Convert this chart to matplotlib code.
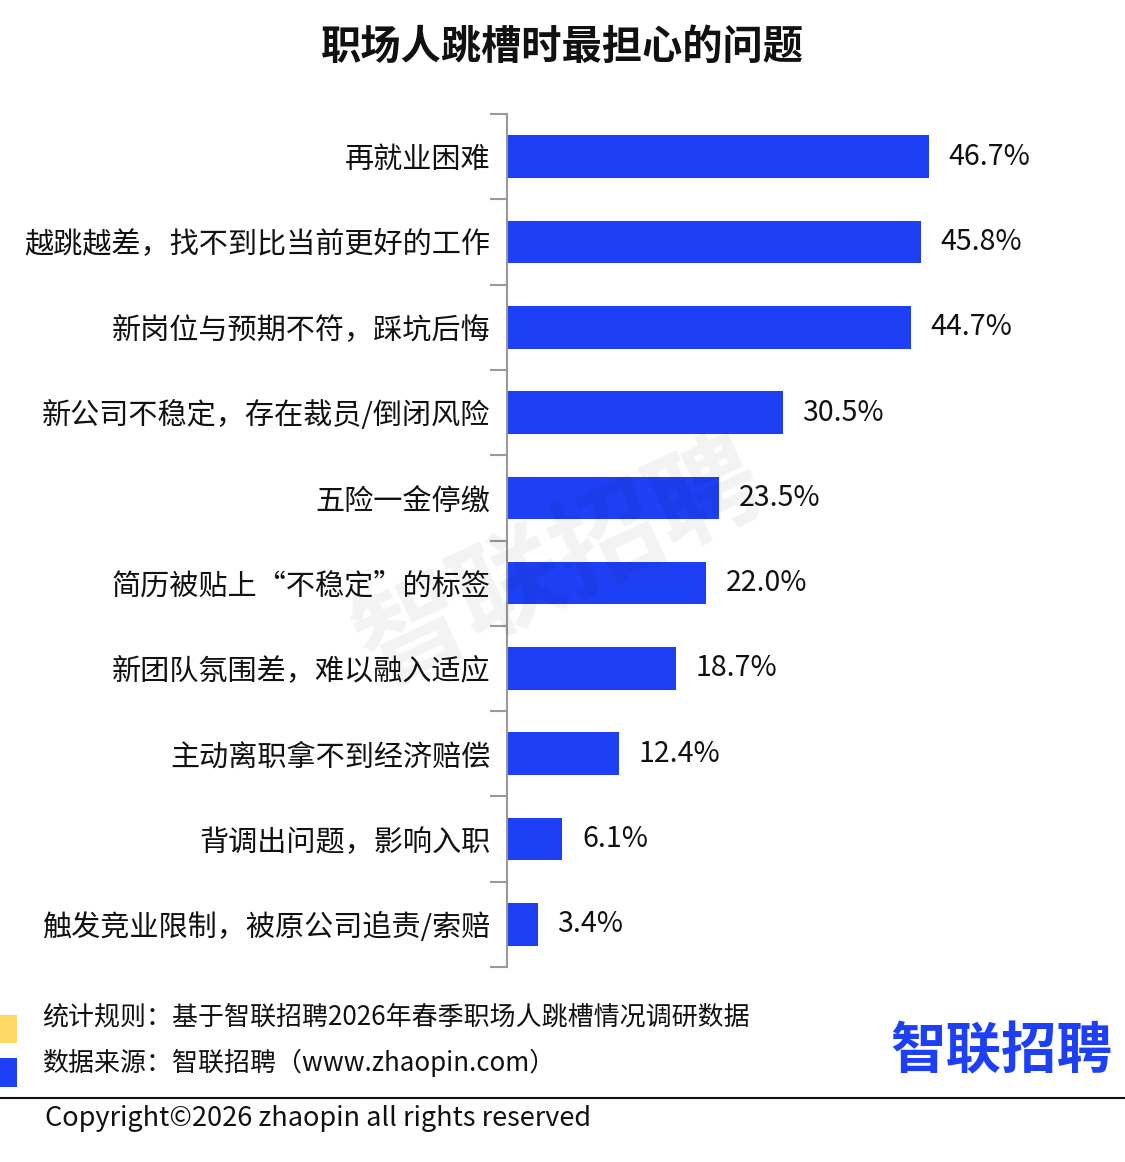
import matplotlib
matplotlib.use("Agg")
import matplotlib.pyplot as plt
from matplotlib.patches import Rectangle
import numpy as np

plt.rcParams['font.family'] = ['Noto Sans CJK SC', 'DejaVu Sans']

# --- data ---
categories = [
    '再就业困难',
    '越跳越差，找不到比当前更好的工作',
    '新岗位与预期不符，踩坑后悔',
    '新公司不稳定，存在裁员/倒闭风险',
    '五险一金停缴',
    '简历被贴上“不稳定”的标签',
    '新团队氛围差，难以融入适应',
    '主动离职拿不到经济赔偿',
    '背调出问题，影响入职',
    '触发竞业限制，被原公司追责/索赔',
]
values = [46.7, 45.8, 44.7, 30.5, 23.5, 22.0, 18.7, 12.4, 6.1, 3.4]

title = '职场人跳槽时最担心的问题'
note_rule = '统计规则：基于智联招聘2026年春季职场人跳槽情况调研数据'
note_source = '数据来源：智联招聘（www.zhaopin.com）'
copyright_text = 'Copyright©2026 zhaopin all rights reserved'

BLUE = '#1E40F5'
YELLOW = '#FFD966'

W, H = 1125, 1162
fig = plt.figure(figsize=(W / 100, H / 100), dpi=100)

# axes placed in pixel terms: spine at x=507, from y=114 to y=967
ax = fig.add_axes([507 / W, 1 - 967 / H, 590 / W, (967 - 114) / H])

y = np.arange(len(categories))
ax.barh(y, values, height=0.5, color=BLUE)
ax.set_ylim(len(categories) - 0.5, -0.5)
ax.set_xlim(0, 65.3)

for yi, v in zip(y, values):
    ax.text(v + 2.2, yi, f'{v:.1f}%', va='center', ha='left', fontsize=20.5, color='#111111')

ax.set_yticks(y)
ax.set_yticklabels(categories, fontsize=21, color='#111111')
ax.tick_params(axis='y', which='major', length=0, pad=12)
ax.set_yticks(np.arange(len(categories) + 1) - 0.5, minor=True)
ax.tick_params(axis='y', which='minor', length=12, width=1.5, color='#999999')
ax.set_xticks([])
for s in ['top', 'right', 'bottom']:
    ax.spines[s].set_visible(False)
ax.spines['left'].set_color('#999999')
ax.spines['left'].set_linewidth(1.5)

# watermark
fig.text(560 / W, 1 - 565 / H, '智联招聘', fontsize=78, fontweight='bold', color='#000000',
         alpha=0.05, rotation=25, ha='center', va='center')

# title
fig.text(562 / W, 1 - 47 / H, title, fontsize=29, fontweight='bold', ha='center', va='center', color='#111111')

# footer notes
fig.add_artist(Rectangle((0, 1 - 1043 / H), 17 / W, 28 / H, transform=fig.transFigure, color=YELLOW, lw=0))
fig.add_artist(Rectangle((0, 1 - 1087 / H), 17 / W, 29 / H, transform=fig.transFigure, color=BLUE, lw=0))
fig.text(42 / W, 1 - 1017 / H, note_rule, fontsize=18.7, va='center', ha='left', color='#111111')
fig.text(42 / W, 1 - 1063 / H, note_source, fontsize=18.7, va='center', ha='left', color='#111111')

# logo
fig.text(1112 / W, 1 - 1052 / H, '智联招聘', fontsize=40, fontweight='bold', color=BLUE,
         ha='right', va='center')

fig.add_artist(plt.Line2D([0, 1], [1 - 1098 / H, 1 - 1098 / H], transform=fig.transFigure,
                          color='#111111', lw=1.5))
fig.text(45 / W, 1 - 1118 / H, copyright_text, fontsize=19.5, va='center', ha='left', color='#111111')

fig.savefig('out.png', dpi=100)
